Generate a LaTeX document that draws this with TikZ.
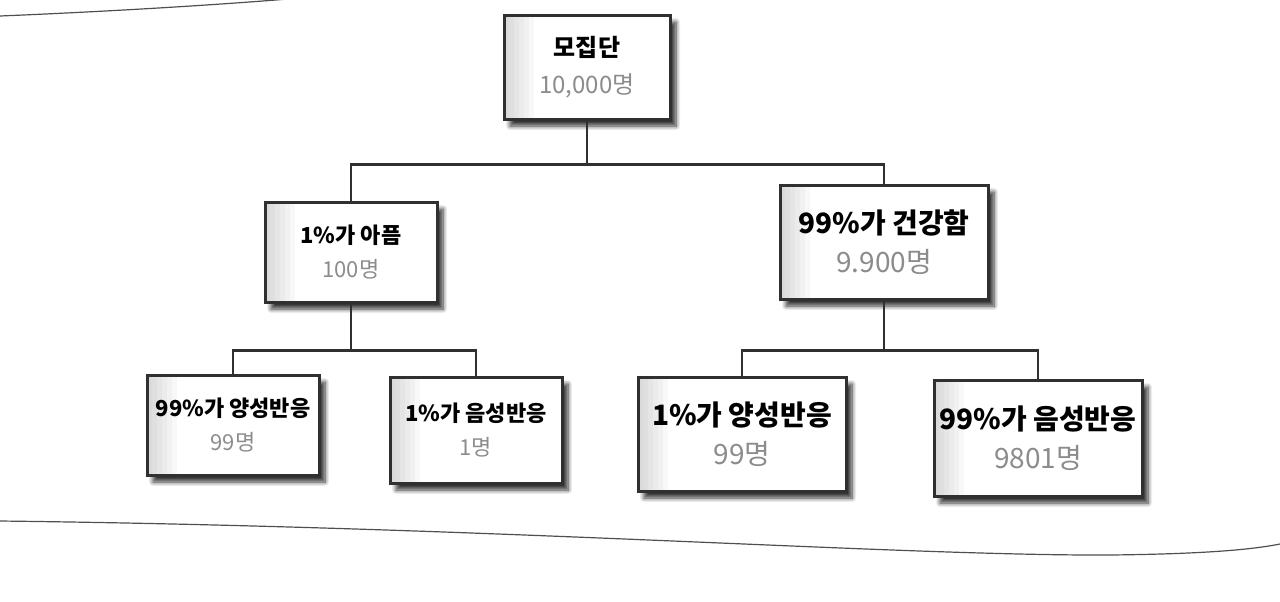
\documentclass[tikz,border=0pt]{standalone}
\usepackage{fontspec}
\setmainfont{Noto Sans CJK KR}
\usetikzlibrary{positioning,calc,shadows.blur}

\definecolor{ink}{HTML}{303030}
\definecolor{numgray}{HTML}{8C8C8C}

\begin{document}
\begin{tikzpicture}[
  x=0.5pt, y=-0.5pt,
  pbox/.style={draw=ink, line width=1.5pt, fill=white, align=center, inner sep=0pt,
    blur shadow={shadow xshift=3pt, shadow yshift=-3.5pt, shadow blur steps=8, shadow opacity=80},
    path picture={\foreach \k in {1,...,6}
      \fill[gray, opacity=0.05] (path picture bounding box.north west) rectangle ([xshift=\k*2.5pt]path picture bounding box.south west);}},
  toprow/.style={pbox, minimum width=83pt, minimum height=52pt, font=\fontsize{12}{18.5}\selectfont},
  leftrow/.style={pbox, minimum width=86pt, minimum height=50pt, font=\fontsize{11}{17}\selectfont},
  rightrow/.style={pbox, minimum width=104pt, minimum height=57pt, font=\fontsize{14}{19.5}\selectfont},
  branch/.style={draw=ink, line width=1.4pt},
  fold/.style={draw=ink!85, line width=0.6pt}
]
\useasboundingbox (0,0) rectangle (1280,601);

% page edges
\draw[fold] (0,16) .. controls (120,11) and (230,4) .. (300,-2);
\draw[fold] (0,521) .. controls (500,527) and (900,556) .. (1110,555) .. controls (1200,554) and (1250,550) .. (1280,544);

\node[toprow] (pop) at (587,67) {\textbf{모집단}\\{\color{numgray}10,000명}};
\node[leftrow] (sick) at (351,252) {\textbf{1\%가 아픔}\\{\color{numgray}100명}};
\node[rightrow] (healthy) at (884,242) {\textbf{99\%가 건강함}\\{\color{numgray}9.900명}};

\node[leftrow] (sickpos) at (233,425) {\textbf{99\%가 양성반응}\\{\color{numgray}99명}};
\node[leftrow, minimum height=53pt] (sickneg) at (476,430) {\textbf{1\%가 음성반응}\\{\color{numgray}1명}};
\node[rightrow] (healthypos) at (742,434) {\textbf{1\%가 양성반응}\\{\color{numgray}99명}};
\node[rightrow, minimum height=58pt] (healthyneg) at (1038,438) {\textbf{99\%가 음성반응}\\{\color{numgray}9801명}};

\draw[branch] (pop.south) -- ++(0,44) coordinate (popjoin);
\draw[branch] (sick.north) |- (popjoin) -| (healthy.north);

\draw[branch] (sick.south) -- ++(0,47) coordinate (sickjoin);
\draw[branch] (sickpos.north) |- (sickjoin) -| (sickneg.north);

\draw[branch] (healthy.south) -- ++(0,50) coordinate (healthyjoin);
\draw[branch] (healthypos.north) |- (healthyjoin) -| (healthyneg.north);
\end{tikzpicture}
\end{document}
